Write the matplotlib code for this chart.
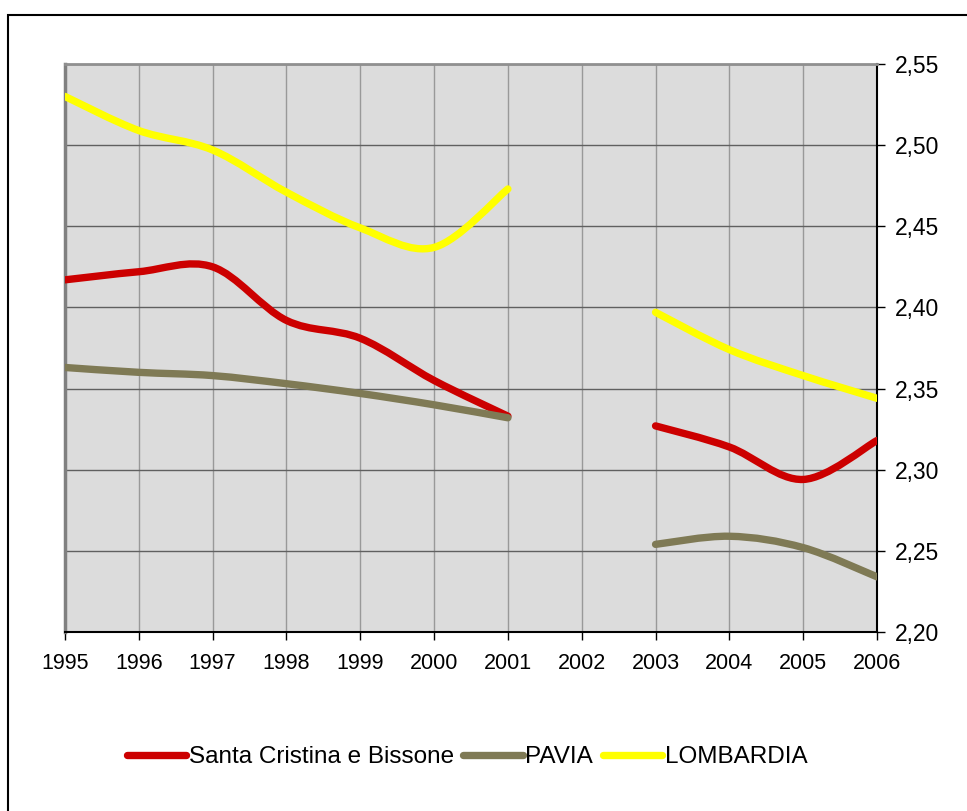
import numpy as np
import matplotlib.pyplot as plt
from matplotlib.path import Path
from matplotlib.patches import PathPatch, Rectangle
from matplotlib.lines import Line2D

plt.rcParams['font.family'] = ['Liberation Sans', 'DejaVu Sans']

# dati (2002 mancante)
years = ['1995', '1996', '1997', '1998', '1999', '2000',
         '2001', '2002', '2003', '2004', '2005', '2006']
santa_cristina = [2.417, 2.422, 2.425, 2.392, 2.381, 2.355,
                  2.333, np.nan, 2.327, 2.314, 2.294, 2.318]
pavia = [2.363, 2.360, 2.358, 2.353, 2.347, 2.340,
         2.332, np.nan, 2.254, 2.259, 2.252, 2.234]
lombardia = [2.530, 2.509, 2.497, 2.471, 2.449, 2.437,
             2.473, np.nan, 2.397, 2.374, 2.358, 2.344]

series = [
    ("Santa Cristina e Bissone", santa_cristina, "#CC0000"),
    ("PAVIA", pavia, "#7F7A55"),
    ("LOMBARDIA", lombardia, "#FFFF00"),
]


def smooth_path(xs, ys):
    """Curva liscia stile Excel (Bezier tipo Catmull-Rom) per ogni tratto senza buchi."""
    verts, codes = [], []
    pts = [(x, y) for x, y in zip(xs, ys)]
    runs, cur = [], []
    for p in pts:
        if np.isnan(p[1]):
            if cur:
                runs.append(cur)
            cur = []
        else:
            cur.append(np.array(p, dtype=float))
    if cur:
        runs.append(cur)
    for run in runs:
        n = len(run)
        verts.append(run[0])
        codes.append(Path.MOVETO)
        for i in range(n - 1):
            p0 = run[i - 1] if i > 0 else run[i]
            p1 = run[i]
            p2 = run[i + 1]
            p3 = run[i + 2] if i + 2 < n else run[i + 1]
            c1 = p1 + (p2 - p0) / 6.0
            c2 = p2 - (p3 - p1) / 6.0
            verts += [c1, c2, p2]
            codes += [Path.CURVE4] * 3
    return Path(verts, codes)


fig = plt.figure(figsize=(9.67, 8.11), dpi=100)
ax = fig.add_axes([65 / 967, 1 - 632 / 811, (877 - 65) / 967, (632 - 64) / 811])
ax.set_facecolor("#DCDCDC")

x = np.arange(len(years))
for name, vals, col in series:
    patch = PathPatch(smooth_path(x, vals), fill=False, edgecolor=col, lw=5.3,
                      capstyle="round", joinstyle="round", zorder=3)
    ax.add_patch(patch)

ax.set_xlim(0, len(years) - 1)
ax.set_ylim(2.20, 2.55)

ax.set_xticks(x)
ax.set_xticklabels(years)
yt = np.arange(2.20, 2.551, 0.05)
ax.set_yticks(yt)
ax.set_yticklabels([f"{v:.2f}".replace(".", ",") for v in yt])
ax.yaxis.tick_right()
ax.tick_params(axis="both", direction="out", length=6, width=1, color="black")
ax.tick_params(axis="x", pad=9, labelsize=15.5)
ax.tick_params(axis="y", pad=7, labelsize=16.5)

ax.grid(axis="y", color="#606060", lw=1, zorder=1)
ax.grid(axis="x", color="#999999", lw=1, zorder=1)
ax.set_axisbelow(True)

ax.spines["left"].set_color("#808080")
ax.spines["left"].set_linewidth(2.5)
ax.spines["top"].set_color("#909090")
ax.spines["top"].set_linewidth(2)
ax.spines["right"].set_color("black")
ax.spines["right"].set_linewidth(1.5)
ax.spines["bottom"].set_color("black")
ax.spines["bottom"].set_linewidth(1.5)

handles = [Line2D([], [], color=c, lw=5.3, solid_capstyle="round") for _, _, c in series]
fig.legend(handles, [s[0] for s in series], loc="center",
           bbox_to_anchor=(467 / 967, 1 - 757 / 811), ncol=3, frameon=False,
           fontsize=17.5, handlelength=2.45, handletextpad=0.1, columnspacing=0.4)

# cornice esterna del grafico
fig.add_artist(Rectangle((7.5 / 967, -0.05), 1.0, 1.05 - 14.5 / 811, fill=False,
                         edgecolor="black", lw=1.5, transform=fig.transFigure))

fig.savefig("out.png", dpi=100)
